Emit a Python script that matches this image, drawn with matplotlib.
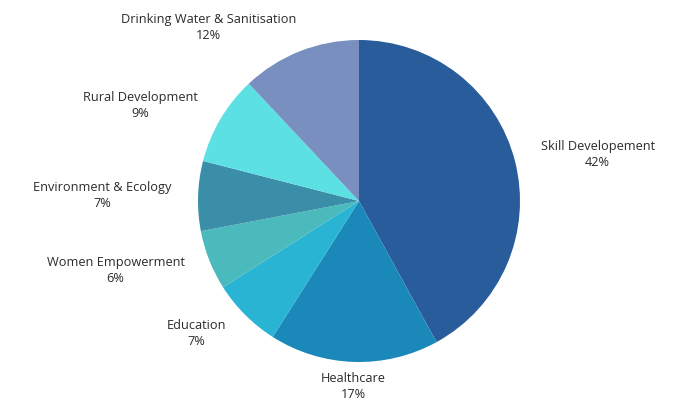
import numpy as np
import matplotlib.pyplot as plt

# data
categories = ['Skill Developement', 'Healthcare', 'Education', 'Women Empowerment',
              'Environment & Ecology', 'Rural Development', 'Drinking Water & Sanitisation']
shares = [42, 17, 7, 6, 7, 9, 12]
colors = ['#285C9A', '#1B88BA', '#2AB4D3', '#4BBABD', '#3A8EA8', '#5CE0E4', '#788FC0']

plt.rcParams['font.family'] = ['Open Sans', 'DejaVu Sans']

fig = plt.figure(figsize=(7, 4.03), dpi=100)
ax = fig.add_axes([0, 0, 1, 1])

cx, cy, r = 359, 202, 161
wedges, _ = ax.pie(shares, colors=colors, startangle=90, counterclock=False,
                   center=(cx, cy), radius=r, frame=True,
                   wedgeprops=dict(linewidth=0))
ax.set_xlim(0, 700)
ax.set_ylim(0, 403)
ax.axis('off')

for w, name, val in zip(wedges, categories, shares):
    mid = np.deg2rad((w.theta1 + w.theta2) / 2)
    c, s = np.cos(mid), np.sin(mid)
    if abs(s) > 0.9:
        d = r * 1.06
    else:
        d = r * 1.165
    x, y = cx + d * c, cy + d * s
    ha = 'center' if abs(c) < 0.2 else ('left' if c > 0 else 'right')
    if s > 0.9:
        va = 'bottom'
    elif s < -0.9:
        va = 'top'
    else:
        va = 'center'
    ax.text(x, y, f'{name}\n{val}%', ha=ha, va=va, multialignment='center',
            fontsize=9.2, color='#2b2b2b', linespacing=1.3)

fig.savefig('out.png', dpi=100)
